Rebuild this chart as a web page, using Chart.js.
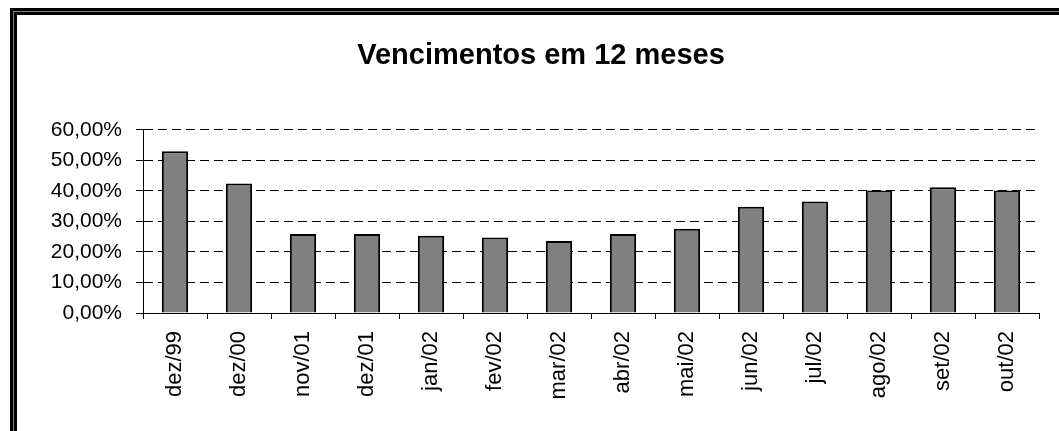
<!DOCTYPE html>
<html lang="pt">
<head>
    <meta charset="UTF-8">
    <title>Vencimentos em 12 meses</title>
    <script src="https://cdn.jsdelivr.net/npm/chart.js@4.4.0/dist/chart.umd.min.js"></script>
    <style>
        * {
            margin: 0;
            padding: 0;
            box-sizing: border-box;
        }

        body {
            background: #fff;
            width: 1059px;
            height: 431px;
            overflow: hidden;
            position: relative;
        }

        /* double frame: black / gray / black */
        .frame {
            position: absolute;
            left: 10px;
            top: 8px;
            width: 1062px;
            height: 440px;
            border: 3px solid #000;
            background: #808080;
            padding: 1px;
        }

        .frame-inner {
            width: 100%;
            height: 100%;
            border: 3px solid #000;
            background: #fff;
        }

        .chart-box {
            width: 1048px;
            height: 426px;
        }
    </style>
</head>
<body>
    <div class="frame">
        <div class="frame-inner">
            <div class="chart-box">
                <canvas id="vencChart"></canvas>
            </div>
        </div>
    </div>

    <script>
        const months = ['dez/99', 'dez/00', 'nov/01', 'dez/01', 'jan/02', 'fev/02', 'mar/02',
                        'abr/02', 'mai/02', 'jun/02', 'jul/02', 'ago/02', 'set/02', 'out/02'];
        const shares = [53.0, 42.4, 25.9, 25.9, 25.3, 24.7, 23.6,
                        25.9, 27.6, 34.8, 36.5, 40.1, 41.2, 40.1];
        const yTicks = [0, 10, 20, 30, 40, 50, 60];

        const fontFamily = 'Arial, "Liberation Sans", sans-serif';

        const ctx = document.getElementById('vencChart').getContext('2d');

        new Chart(ctx, {
            type: 'bar',
            data: {
                labels: months,
                datasets: [{
                    label: 'Vencimentos em 12 meses',
                    data: shares,
                    backgroundColor: '#808080',
                    borderColor: '#000',
                    borderWidth: 2,
                    barPercentage: 0.41,
                    categoryPercentage: 1
                }]
            },
            options: {
                responsive: true,
                maintainAspectRatio: false,
                animation: false,
                plugins: {
                    legend: { display: false },
                    tooltip: { enabled: false },
                    title: {
                        display: true,
                        text: 'Vencimentos em 12 meses',
                        color: '#000',
                        font: { family: fontFamily, size: 29, weight: 'bold' },
                        padding: { top: 24, bottom: 56 }
                    }
                },
                scales: {
                    x: {
                        afterFit: (scale) => { scale.height = 128; },
                        grid: {
                            display: true,
                            drawOnChartArea: false,
                            offset: true,
                            color: '#000',
                            tickLength: 6
                        },
                        border: { display: true, color: '#000', width: 1 },
                        ticks: {
                            color: '#000',
                            autoSkip: false,
                            minRotation: 90,
                            maxRotation: 90,
                            padding: 12,
                            font: { family: fontFamily, size: 22 }
                        }
                    },
                    y: {
                        min: 0,
                        max: 60,
                        afterFit: (scale) => { scale.width = 126; },
                        afterBuildTicks: (scale) => {
                            scale.ticks = yTicks.map(v => ({ value: v }));
                        },
                        grid: {
                            color: '#000',
                            lineWidth: 1,
                            tickBorderDash: [],
                            tickColor: '#000',
                            tickLength: 7
                        },
                        // border.dash sets the dashes of the grid lines in v4
                        border: { display: true, color: '#000', width: 1, dash: [9, 5] },
                        ticks: {
                            color: '#000',
                            padding: 14,
                            font: { family: fontFamily, size: 21 },
                            callback: (v) => v.toFixed(2).replace('.', ',') + '%'
                        }
                    },
                    // empty right axis, only reserves the right margin so the title stays centred on the frame
                    yRight: {
                        position: 'right',
                        min: 0,
                        max: 60,
                        afterFit: (scale) => { scale.width = 26; },
                        grid: { display: false },
                        border: { display: false },
                        ticks: { display: false }
                    }
                }
            }
        });
    </script>
</body>
</html>
